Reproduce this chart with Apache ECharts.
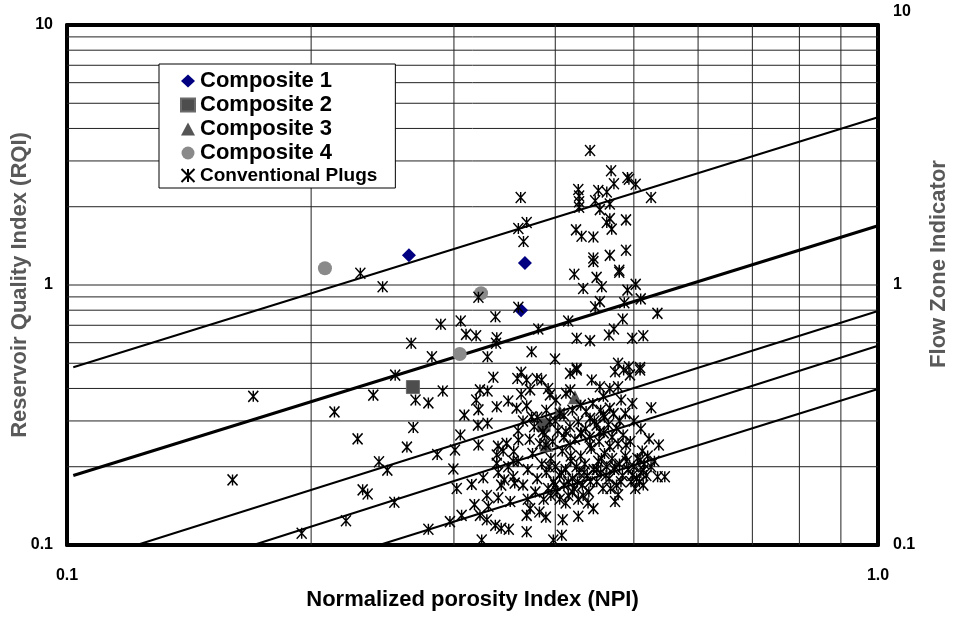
<!DOCTYPE html>
<html><head><meta charset="utf-8">
<script src="https://cdn.jsdelivr.net/npm/echarts@6/dist/echarts.min.js"></script>
<style>html,body{margin:0;padding:0;background:#fff}#c{width:955px;height:617px}</style>
</head><body><div id="c"></div>
<script>
// ---- data ----
const xRange = [0.1, 1.0];
const yRange = [0.1, 10];
const xGridValues = [0.2, 0.3, 0.4, 0.5, 0.6, 0.7, 0.8, 0.9];
const yGridValues = [0.2, 0.3, 0.4, 0.5, 0.6, 0.7, 0.8, 0.9, 1, 2, 3, 4, 5, 6, 7, 8, 9];
const seriesNames = ['Composite 1', 'Composite 2', 'Composite 3', 'Composite 4', 'Conventional Plugs'];

const composite1 = [[0.264, 1.30], [0.367, 1.215], [0.363, 0.80]];
const composite2 = [[0.267, 0.405], [0.387, 0.289]];
const composite3 = [[0.423, 0.37], [0.405, 0.325], [0.39, 0.243]];
const composite4 = [[0.208, 1.16], [0.324, 0.93], [0.305, 0.543]];

// flow-zone indicator lines: [start, end] in (NPI, RQI)
const fziLines = [
  [[0.1018, 0.483], [1.0, 4.42]],
  [[0.1018, 0.185], [1.0, 1.69]],
  [[0.1219, 0.1], [1.0, 0.794]],
  [[0.1698, 0.1], [1.0, 0.584]],
  [[0.2427, 0.1], [1.0, 0.398]]
];

const plugsSparse = [
  [0.160,0.178],[0.1697,0.373],[0.1947,0.111],[0.2137,0.325],[0.2208,0.124],[0.230,1.11],[0.2282,0.256],
  [0.2315,0.163],[0.2348,0.157],[0.2386,0.377],[0.2425,0.209],[0.245,0.985],[0.2483,0.194],[0.2533,0.146],
  [0.2539,0.45],[0.2625,0.238],[0.2657,0.597],[0.2673,0.283],[0.269,0.361],[0.279,0.352],[0.279,0.115],
  [0.2818,0.53],[0.2861,0.223],[0.289,0.706],[0.2906,0.391],[0.2966,0.123],[0.2995,0.196],[0.3009,0.232],
  [0.3024,0.165],[0.3055,0.265],[0.3058,0.727],[0.3066,0.13],[0.309,0.316],[0.3105,0.646],[0.3155,0.171],
  [0.318,0.143],[0.3195,0.638],[0.3196,0.361],[0.3212,0.289],[0.3216,0.897],[0.3216,0.331],[0.3216,0.2425],
  [0.323,0.395],[0.323,0.13],[0.3246,0.1045],[0.326,0.1815],[0.3294,0.155],[0.3294,0.125],[0.33,0.53],
  [0.33,0.391],[0.33,0.294],[0.3308,0.141],[0.3355,0.442],[0.3375,0.755],[0.3374,0.119],[0.3381,0.597],
  [0.3388,0.627],[0.3388,0.34],[0.3388,0.222],[0.3388,0.206],[0.3402,0.19],[0.3402,0.152],[0.3431,0.17],
  [0.3431,0.116],[0.346,0.178],[0.3484,0.246],[0.3505,0.115],[0.350,0.358],[0.352,0.147],[0.355,0.183],
  [0.3555,0.229],[0.3565,0.173],[0.3584,0.336],[0.3592,0.437],[0.3602,1.65],[0.3602,0.821],[0.3602,0.2535],
  [0.3626,2.17],[0.3631,0.462],[0.3631,0.38],[0.3655,1.47],[0.3688,1.74],[0.3688,0.431],[0.3688,0.343],
  [0.3688,0.13],[0.3688,0.1125],[0.3724,0.395],[0.3724,0.138],[0.374,0.554],[0.374,0.311],[0.3768,0.285],
  [0.3796,0.437],[0.3812,0.677],[0.3824,0.134],[0.3848,0.431],[0.3862,0.273],[0.3895,0.2425],[0.3895,0.128],
  [0.392,0.40],[0.394,0.378],[0.394,0.298],[0.3978,0.1045],[0.3997,0.519],[0.4008,0.361],[0.4052,0.321],
  [0.4074,0.109],[0.4085,0.125],[0.4123,0.383],[0.4123,0.273],[0.415,0.727],[0.4172,0.457],[0.4172,0.2425],
  [0.4174,0.395],[0.4222,1.10],[0.4243,1.63],[0.4251,0.624],[0.4251,0.478],[0.4251,0.471],[0.427,2.33],
  [0.427,0.298],[0.427,0.129],[0.428,2.20],[0.428,2.09],[0.428,1.99],[0.431,1.54],[0.431,0.269],[0.433,0.97],
  [0.4366,0.326],[0.4415,3.29],[0.4415,0.611],[0.4415,0.307],[0.4415,0.2425],[0.4436,0.431],[0.4457,1.53],
  [0.4457,1.27],[0.4457,1.23],[0.4457,0.138],[0.448,2.11],[0.448,0.825],[0.4498,1.07],[0.4498,0.289],
  [0.452,2.31],[0.454,1.95],[0.454,0.863],[0.454,0.406],[0.454,0.273],[0.4564,0.985],[0.4585,0.373],
  [0.4585,0.316],[0.4659,0.642],[0.463,2.28],[0.463,1.74],[0.467,2.05],[0.467,1.80],[0.467,1.30],[0.467,0.40],
  [0.467,0.336],[0.467,0.239],[0.4687,2.75],[0.4695,1.64],[0.4725,2.45],[0.4725,0.677],[0.474,0.464],
  [0.474,0.147],[0.4761,0.281],[0.4781,0.500],[0.4781,0.406],[0.4781,0.156],[0.4797,1.14],[0.4797,1.12],
  [0.4822,0.361],[0.4844,0.740],[0.4857,0.471],[0.4866,0.855],[0.489,1.78],[0.489,1.36],[0.489,0.2425],
  [0.491,2.59],[0.491,0.956],[0.493,2.55],[0.493,0.485],[0.4945,0.451],[0.4977,0.624],[0.4977,0.350],
  [0.5026,2.44],[0.5026,1.006],[0.504,0.18],[0.5089,0.481],[0.5089,0.471],[0.5089,0.212],[0.5098,0.884],
  [0.5135,0.638],[0.5135,0.194],[0.5135,0.17],[0.522,0.256],[0.5253,0.337],[0.525,2.17],[0.5346,0.778],
  [0.5349,0.183],[0.5367,0.2425],[0.5459,0.183]
];
const plugsCore = [
  [0.36,0.21],[0.37,0.195],[0.375,0.225],[0.38,0.18],[0.385,0.205],[0.39,0.19],[0.392,0.165],[0.395,0.215],[0.398,0.175],[0.40,0.2],
  [0.402,0.16],[0.405,0.185],[0.408,0.23],[0.41,0.17],[0.412,0.195],[0.415,0.155],[0.418,0.21],[0.42,0.18],[0.422,0.165],[0.425,0.2],
  [0.428,0.19],[0.43,0.22],[0.432,0.17],[0.435,0.205],[0.438,0.185],[0.44,0.16],[0.443,0.235],[0.446,0.195],[0.45,0.175],[0.452,0.21],
  [0.455,0.19],[0.458,0.165],[0.46,0.225],[0.463,0.2],[0.466,0.18],[0.47,0.215],[0.473,0.195],[0.476,0.17],[0.48,0.205],[0.484,0.185],
  [0.488,0.22],[0.492,0.195],[0.496,0.175],[0.50,0.2],[0.505,0.215],[0.51,0.19],[0.515,0.205],[0.52,0.22],[0.525,0.2],[0.53,0.21],
  [0.365,0.17],[0.372,0.255],[0.383,0.245],[0.388,0.265],[0.397,0.25],[0.403,0.275],[0.41,0.26],[0.417,0.285],[0.423,0.255],[0.43,0.27],
  [0.436,0.28],[0.441,0.26],[0.447,0.3],[0.453,0.25],[0.459,0.27],[0.465,0.29],[0.47,0.26],[0.478,0.245],[0.485,0.265],[0.495,0.25],
  [0.405,0.15],[0.412,0.145],[0.42,0.16],[0.427,0.15],[0.433,0.155],[0.439,0.145],[0.395,0.155],[0.387,0.15],[0.378,0.16],[0.37,0.15],
  [0.415,0.175],[0.407,0.19],[0.4,0.17],[0.393,0.2],[0.418,0.22],[0.426,0.175],[0.434,0.19],[0.442,0.175],[0.45,0.195],[0.456,0.215],
  [0.462,0.185],[0.468,0.165],[0.474,0.2],[0.482,0.175],[0.49,0.21],[0.498,0.185],[0.502,0.165],[0.508,0.175],[0.512,0.23],[0.518,0.185],
  [0.35,0.2],[0.355,0.21],[0.345,0.23],[0.34,0.24],[0.36,0.275],[0.365,0.3],[0.38,0.31],[0.39,0.33],[0.4,0.3],[0.41,0.315],
  [0.42,0.33],[0.43,0.345],[0.445,0.35],[0.455,0.33],[0.46,0.31],[0.472,0.32],[0.48,0.3],[0.488,0.32],[0.5,0.3],[0.51,0.28]
];
const plugs = plugsSparse.concat(plugsCore);

// ---- rendering ----
const FONT = '"Liberation Sans", Arial, sans-serif';
const chart = echarts.init(document.getElementById('c'), null, {renderer: 'canvas'});
const STAR = 'path://M0,0L10,10M10,0L0,10M5,0L5,10';

const series = [];
xGridValues.forEach(v => series.push({
  type: 'line', silent: true, symbol: 'none', z: 1, animation: false,
  data: [[v, yRange[0]], [v, yRange[1]]],
  lineStyle: {color: '#222', width: 1}
}));
yGridValues.forEach(v => series.push({
  type: 'line', silent: true, symbol: 'none', z: 1, animation: false,
  data: [[xRange[0], v], [xRange[1], v]],
  lineStyle: {color: '#222', width: 1}
}));
const fziW = [2, 3, 2, 2, 2];
fziLines.forEach((ln, i) => series.push({
  type: 'line', silent: true, symbol: 'none', z: 3, animation: false,
  data: ln, lineStyle: {color: '#000', width: fziW[i]}
}));
series.push(
  {name: seriesNames[0], type: 'scatter', symbol: 'diamond', symbolSize: 14, z: 4, data: composite1, itemStyle: {color: '#000080', opacity: 1}},
  {name: seriesNames[1], type: 'scatter', symbol: 'rect', symbolSize: 13, z: 4, data: composite2, itemStyle: {color: '#4d4d4d', borderColor: '#6a6a6a', borderWidth: 1, opacity: 1}},
  {name: seriesNames[2], type: 'scatter', symbol: 'triangle', symbolSize: 14, z: 4, data: composite3, itemStyle: {color: '#555555', opacity: 1}},
  {name: seriesNames[3], type: 'scatter', symbol: 'circle', symbolSize: 14, z: 4, data: composite4, itemStyle: {color: '#8a8a8a', opacity: 1}},
  {name: seriesNames[4], type: 'scatter', symbol: STAR, symbolSize: [10, 11], z: 5, data: plugs,
   itemStyle: {color: 'rgba(0,0,0,0)', borderColor: '#000', borderWidth: 1.5, opacity: 1}}
);

const axisLbl = {fontFamily: FONT, fontWeight: 'bold', fontSize: 16, color: '#000'};
chart.setOption({
  animation: false,
  backgroundColor: '#fff',
  textStyle: {fontFamily: FONT},
  grid: {left: 67, right: 77, top: 25, bottom: 72, containLabel: false, outerBoundsMode: 'none'},
  legend: {
    orient: 'vertical', left: 159, top: 64,
    data: seriesNames,
    backgroundColor: '#fff', borderColor: '#000', borderWidth: 1, borderRadius: 0,
    padding: [6, 18, 3, 21], itemGap: 2, itemWidth: 14, itemHeight: 13,
    selectedMode: false, z: 20,
    formatter: n => n === 'Conventional Plugs' ? '{p|' + n + '}' : '{c|' + n + '}',
    textStyle: {
      fontFamily: FONT, fontWeight: 'bold', color: '#000',
      rich: {
        c: {fontFamily: FONT, fontWeight: 'bold', fontSize: 22, lineHeight: 22, color: '#000'},
        p: {fontFamily: FONT, fontWeight: 'bold', fontSize: 19, lineHeight: 22, color: '#000'}
      }
    }
  },
  xAxis: [
    {type: 'log', logBase: 10, min: xRange[0], max: xRange[1], position: 'bottom',
     name: 'Normalized porosity Index (NPI)', nameLocation: 'middle', nameGap: 40,
     nameTextStyle: {fontFamily: FONT, fontWeight: 'bold', fontSize: 22, color: '#000'},
     axisLine: {lineStyle: {color: '#000', width: 4}}, axisTick: {show: false},
     splitLine: {show: false},
     axisLabel: Object.assign({margin: 23, formatter: v => Number(v).toFixed(1)}, axisLbl)},
    {type: 'log', logBase: 10, min: xRange[0], max: xRange[1], position: 'top',
     axisLine: {lineStyle: {color: '#000', width: 4}}, axisTick: {show: false},
     splitLine: {show: false}, axisLabel: {show: false}}
  ],
  yAxis: [
    {type: 'log', logBase: 10, min: yRange[0], max: yRange[1], position: 'left',
     name: 'Reservoir Quality Index (RQI)', nameLocation: 'middle', nameGap: 36, nameMoveOverlap: false,
     nameTextStyle: {fontFamily: FONT, fontWeight: 'bold', fontSize: 22, color: '#595959'},
     axisLine: {show: true, lineStyle: {color: '#000', width: 4}}, axisTick: {show: false},
     splitLine: {show: false},
     axisLabel: Object.assign({margin: 14, formatter: v => String(Number(v))}, axisLbl)},
    {type: 'log', logBase: 10, min: yRange[0], max: yRange[1], position: 'right',
     name: 'Flow Zone Indicator', nameLocation: 'middle', nameGap: 50, nameRotate: 90,
     nameTextStyle: {fontFamily: FONT, fontWeight: 'bold', fontSize: 22, color: '#595959', padding: [0, 0, 0, 42]},
     axisLine: {show: true, lineStyle: {color: '#000', width: 4}}, axisTick: {show: false},
     splitLine: {show: false},
     axisLabel: Object.assign({margin: 15,
       formatter: v => Number(v) >= 10 ? '{t|' + Number(v) + '}' : '{n|' + Number(v) + '}',
       rich: {t: {fontFamily: FONT, fontWeight: 'bold', fontSize: 16, padding: [0, 0, 26, 0]},
              n: {fontFamily: FONT, fontWeight: 'bold', fontSize: 16}}}, axisLbl)}
  ],
  series: series
});
</script></body></html>
